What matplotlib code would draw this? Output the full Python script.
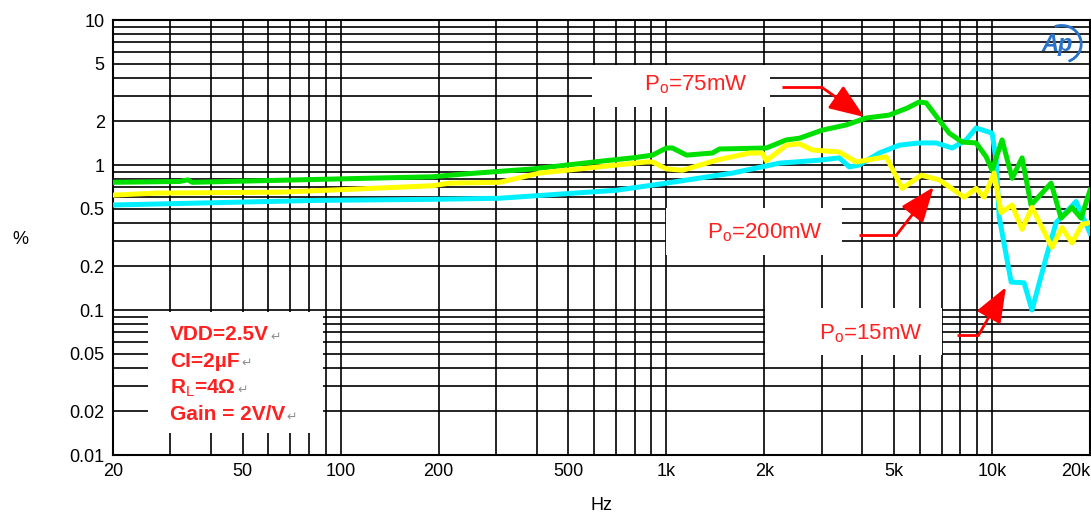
import matplotlib
matplotlib.use("Agg")
import matplotlib.pyplot as plt
from matplotlib.patches import Rectangle, Arc
import numpy as np

plt.rcParams['font.family'] = ['Liberation Sans', 'DejaVu Sans']
plt.rcParams['mathtext.fontset'] = 'custom'
plt.rcParams['mathtext.rm'] = 'Liberation Sans'

# THD+N vs frequency, three output power levels
freq_75 = [20, 32, 34, 35, 120, 192, 216, 244, 389, 624, 787, 907, 1001, 1044, 1153,
           1385, 1456, 2028, 2337, 2562, 3012, 3568, 4110, 4836, 5493, 5978, 6281,
           6884, 7388, 8100, 8940, 9594, 10010, 10740, 11530, 12370, 13180, 15190,
           16300, 17610, 18770, 20000]
thd_75 = [0.76, 0.77, 0.79, 0.76, 0.81, 0.83, 0.85, 0.87, 0.94, 1.06, 1.12, 1.17, 1.31,
          1.31, 1.17, 1.21, 1.29, 1.31, 1.49, 1.53, 1.74, 1.89, 2.11, 2.21, 2.47, 2.72,
          2.68, 2.04, 1.66, 1.44, 1.42, 1.14, 0.92, 1.49, 0.81, 1.12, 0.53, 0.75,
          0.43, 0.51, 0.43, 0.67]

freq_200 = [20, 27, 65, 107, 192, 216, 308, 408, 494, 703, 869, 907, 1001, 1121, 1425,
            1799, 1972, 2028, 2337, 2562, 2808, 3398, 3830, 4734, 5301, 6062, 6884,
            8214, 8940, 9458, 10150, 10670, 11530, 12370, 13270, 15290, 16410, 17610,
            18900, 20000]
thd_200 = [0.62, 0.64, 0.65, 0.68, 0.72, 0.75, 0.76, 0.88, 0.92, 1.0, 1.05, 1.05, 0.94,
           0.92, 1.08, 1.21, 1.21, 1.07, 1.37, 1.40, 1.27, 1.23, 1.05, 1.14, 0.69, 0.85,
           0.79, 0.60, 0.69, 0.60, 0.88, 0.47, 0.53, 0.36, 0.51, 0.27, 0.37, 0.29,
           0.39, 0.40]

freq_15 = [20, 84, 192, 308, 703, 1001, 1596, 2224, 2950, 3398, 3646, 3912, 4506, 5190,
           5978, 6740, 7546, 8330, 8940, 10010, 10300, 10520, 11450, 12550, 13270,
           14660, 15730, 18120, 20000]
thd_15 = [0.53, 0.57, 0.58, 0.59, 0.67, 0.75, 0.88, 1.03, 1.08, 1.12, 0.97, 1.0, 1.21,
          1.37, 1.42, 1.42, 1.31, 1.49, 1.80, 1.66, 1.08, 0.44, 0.156, 0.154, 0.10,
          0.23, 0.40, 0.56, 0.34]

x_ticks = [20, 50, 100, 200, 500, 1000, 2000, 5000, 10000, 20000]
x_labels = ['20', '50', '100', '200', '500', '1k', '2k', '5k', '10k', '20k']
y_ticks = [0.01, 0.02, 0.05, 0.1, 0.2, 0.5, 1, 2, 5, 10]
y_labels = ['0.01', '0.02', '0.05', '0.1', '0.2', '0.5', '1', '2', '5', '10']

conditions = ['VDD=2.5V', 'CI=2\u00b5F', 'R$_\\mathrm{L}$=4\u03a9', 'Gain = 2V/V']

fig = plt.figure(figsize=(10.91, 5.16), dpi=100)
ax = fig.add_axes([0.1036, 0.1182, 0.8955, 0.843])
ax.set_xscale('log')
ax.set_yscale('log')
ax.set_xlim(20, 20000)
ax.set_ylim(0.01, 10)

# grid at every decade step, both axes
ax.set_axisbelow(True)
ax.grid(True, which='both', color='black', lw=1.2)
ax.set_xticks(x_ticks)
ax.set_xticklabels(x_labels)
ax.set_yticks(y_ticks)
ax.set_yticklabels(y_labels)
ax.xaxis.set_minor_locator(matplotlib.ticker.LogLocator(base=10, subs=np.arange(1, 10)))
ax.yaxis.set_minor_locator(matplotlib.ticker.LogLocator(base=10, subs=np.arange(1, 10)))
ax.xaxis.set_minor_formatter(matplotlib.ticker.NullFormatter())
ax.yaxis.set_minor_formatter(matplotlib.ticker.NullFormatter())
ax.tick_params(which='both', length=0, labelsize=13, pad=6)
ax.get_xticklabels()[-1].set_horizontalalignment('right')
for s in ax.spines.values():
    s.set_linewidth(1.5)

ax.set_xlabel('Hz', fontsize=13, labelpad=12)
fig.text(20 / 1091, 1 - 240 / 516, '%', fontsize=13, ha='center', va='center')

# curves
ax.plot(freq_15, thd_15, color='#00f0ff', lw=3.6, zorder=3)
ax.plot(freq_75, thd_75, color='#00e000', lw=3.6, zorder=3)
ax.plot(freq_200, thd_200, color='#ffff00', lw=3.6, zorder=4)

# white label boxes covering the grid
boxes = [(0.490, 0.800, 0.182, 0.097),
         (0.566, 0.460, 0.180, 0.108),
         (0.667, 0.230, 0.182, 0.108),
         (0.036, 0.051, 0.179, 0.278)]
for bx, by, bw, bh in boxes:
    ax.add_patch(Rectangle((bx, by), bw, bh, transform=ax.transAxes,
                           facecolor='white', edgecolor='none', zorder=2))

red = '#ff2020'
ax.text(0.596, 0.851, 'P$_\\mathrm{o}$=75mW', transform=ax.transAxes, color=red,
        fontsize=16, ha='center', va='center', zorder=5)
ax.text(0.667, 0.510, 'P$_\\mathrm{o}$=200mW', transform=ax.transAxes, color=red,
        fontsize=16, ha='center', va='center', zorder=5)
ax.text(0.776, 0.280, 'P$_\\mathrm{o}$=15mW', transform=ax.transAxes, color=red,
        fontsize=16, ha='center', va='center', zorder=5)

# pointer arrows: short horizontal lead then a diagonal arrow
arrows = [((0.685, 0.846), (0.725, 0.846), (0.769, 0.777)),
          ((0.764, 0.506), (0.802, 0.506), (0.840, 0.616)),
          ((0.864, 0.276), (0.886, 0.276), (0.914, 0.386))]
for start, elbow, tip in arrows:
    ax.plot([start[0], elbow[0]], [start[1], elbow[1]], color='red', lw=2,
            transform=ax.transAxes, zorder=6, solid_capstyle='butt')
    ax.annotate('', xy=tip, xycoords='axes fraction', xytext=elbow,
                textcoords='axes fraction', zorder=6,
                arrowprops=dict(arrowstyle='-|>,head_length=0.9,head_width=0.35',
                                color='red', lw=2, mutation_scale=24,
                                shrinkA=0, shrinkB=0))

# test conditions
for i, line in enumerate(conditions):
    yy = 0.276 - i * 0.061
    t = ax.text(0.058, yy, line, transform=ax.transAxes, color=red, fontsize=15,
                fontweight='bold', ha='left', va='center', zorder=5)
    fig.canvas.draw()
    bb = t.get_window_extent().transformed(ax.transAxes.inverted())
    ax.text(bb.x1 + 0.002, yy - 0.005, '\u21b5', transform=ax.transAxes,
            color='#909090', fontsize=9, family='DejaVu Sans', ha='left',
            va='center', zorder=5)

# Ap logo
logo = '#2a72c8'
ax.text(0.966, 0.943, 'Ap', transform=ax.transAxes, color=logo, fontsize=17,
        fontstyle='italic', fontweight='bold', ha='center', va='center', zorder=5)
ax.add_patch(Arc((0.971, 0.945), 0.040, 0.085, theta1=-80, theta2=100,
                 transform=ax.transAxes, color=logo, lw=2, zorder=5))

fig.savefig('out.png', dpi=100)
